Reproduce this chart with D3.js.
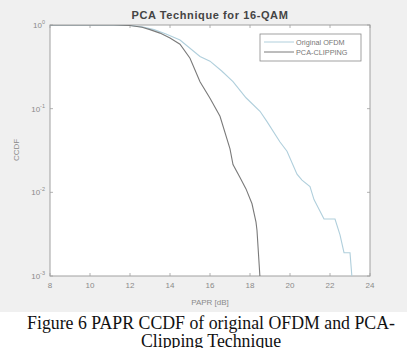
<!DOCTYPE html>
<html><head><meta charset="utf-8">
<script src="https://cdn.jsdelivr.net/npm/d3@7"></script>
<style>
html,body{margin:0;padding:0;background:#fff;}
svg{display:block;}
</style></head>
<body>
<script>
const titleText = "PCA Technique for 16-QAM";
const xLabel = "PAPR [dB]";
const yLabel = "CCDF";
const xTicks = [8,10,12,14,16,18,20,22,24];
const yTicks = [1,0.1,0.01,0.001];
const yTickExp = ["0","-1","-2","-3"];
const seriesNames = ["Original OFDM","PCA-CLIPPING"];
const captionLines = ["Figure 6 PAPR CCDF of original OFDM and PCA-","Clipping Technique"];

// Original OFDM: [PAPR dB, CCDF]
const originalX = [8, 11.2, 12.0, 12.6, 13.2, 13.8, 14.5, 15.5, 16.0, 16.6, 17.15, 17.8, 18.5, 18.85, 19.5, 19.85, 20.35, 20.6, 21.0, 21.2, 21.7, 22.25, 22.5, 22.7, 23.0, 23.1, 23.5];
const originalY = [1, 1, 0.985, 0.95, 0.88, 0.78, 0.66, 0.42, 0.37, 0.28, 0.21, 0.135, 0.093, 0.07, 0.04, 0.031, 0.0165, 0.014, 0.0117, 0.0082, 0.0048, 0.0048, 0.0031, 0.0019, 0.0019, 0.00095, 0.00095];
// PCA-CLIPPING
const clipX = [8, 11.2, 12.0, 12.6, 13.0, 13.5, 14.0, 14.5, 15.0, 15.5, 16.0, 16.5, 17.0, 17.15, 17.5, 17.8, 18.1, 18.3, 18.35, 18.5, 18.8];
const clipY = [1, 1, 0.985, 0.94, 0.88, 0.80, 0.70, 0.59, 0.40, 0.21, 0.133, 0.081, 0.033, 0.0215, 0.015, 0.011, 0.0073, 0.0044, 0.0035, 0.00095, 0.00095];

const W = 407, H = 348;
const svg = d3.select("body").append("svg").attr("width", W).attr("height", H);
svg.append("rect").attr("x",0).attr("y",0).attr("width",W).attr("height",312).attr("fill","#f0f0f0");

const L = 50, R = 370, T = 25, B = 276;
const x = d3.scaleLinear().domain([8,24]).range([L,R]);
const y = d3.scaleLog().domain([0.001,1]).range([B,T]);

const defs = svg.append("defs");
defs.append("clipPath").attr("id","pc").append("rect").attr("x",L).attr("y",T).attr("width",R-L).attr("height",B-T);

svg.append("rect").attr("x",L).attr("y",T).attr("width",R-L).attr("height",B-T).attr("fill","#fff");

const axisColor = "#a0a0a0";
const tickFont = "Arial, 'Liberation Sans', sans-serif";

// ticks
const g = svg.append("g");
xTicks.forEach(v=>{
  g.append("line").attr("x1",x(v)).attr("x2",x(v)).attr("y1",B).attr("y2",B-3).attr("stroke",axisColor).attr("stroke-width",0.8);
  g.append("line").attr("x1",x(v)).attr("x2",x(v)).attr("y1",T).attr("y2",T+3).attr("stroke",axisColor).attr("stroke-width",0.8);
  g.append("text").attr("x",x(v)).attr("y",B+12).attr("text-anchor","middle").attr("font-family",tickFont).attr("font-size",8).attr("fill","#8a8a8a").text(v);
});
yTicks.forEach((v,i)=>{
  g.append("line").attr("x1",L).attr("x2",L+3).attr("y1",y(v)).attr("y2",y(v)).attr("stroke",axisColor).attr("stroke-width",0.8);
  g.append("line").attr("x1",R).attr("x2",R-3).attr("y1",y(v)).attr("y2",y(v)).attr("stroke",axisColor).attr("stroke-width",0.8);
  const t = g.append("text").attr("x",L-5).attr("y",y(v)+3).attr("text-anchor","end").attr("font-family",tickFont).attr("font-size",8).attr("fill","#8a8a8a");
  t.append("tspan").text("10");
  t.append("tspan").attr("dy",-4).attr("font-size",5.5).text(yTickExp[i]);
});

// frame
svg.append("rect").attr("x",L).attr("y",T).attr("width",R-L).attr("height",B-T).attr("fill","none").attr("stroke",axisColor).attr("stroke-width",1);

const line = d3.line().x(d=>x(d[0])).y(d=>y(d[1]));
const pg = svg.append("g").attr("clip-path","url(#pc)");
pg.append("path").attr("d", line(originalX.map((v,i)=>[v,originalY[i]]))).attr("fill","none").attr("stroke","#b0cfdc").attr("stroke-width",1.1);
pg.append("path").attr("d", line(clipX.map((v,i)=>[v,clipY[i]]))).attr("fill","none").attr("stroke","#7a7a7a").attr("stroke-width",1.1);

// title & labels
svg.append("text").attr("x",(L+R)/2).attr("y",19).attr("text-anchor","middle").attr("font-family",tickFont).attr("font-weight","bold").attr("font-size",11).attr("letter-spacing",0.6).attr("fill","#444").text(titleText);
svg.append("text").attr("x",(L+R)/2).attr("y",305).attr("text-anchor","middle").attr("font-family",tickFont).attr("font-size",8).attr("fill","#8a8a8a").text(xLabel);
svg.append("text").attr("transform",`translate(19,${150}) rotate(-90)`).attr("text-anchor","middle").attr("font-family",tickFont).attr("font-size",8).attr("fill","#8a8a8a").text(yLabel);

// legend
const lg = svg.append("g");
lg.append("rect").attr("x",260).attr("y",34).attr("width",101).attr("height",27).attr("fill","#fff").attr("stroke","#8a8a8a").attr("stroke-width",0.8);
const cols = ["#b0cfdc","#7a7a7a"];
seriesNames.forEach((n,i)=>{
  const yy = 42 + i*10;
  lg.append("line").attr("x1",264).attr("x2",294).attr("y1",yy).attr("y2",yy).attr("stroke",cols[i]).attr("stroke-width",1);
  lg.append("text").attr("x",296).attr("y",yy+2.5).attr("font-family",tickFont).attr("font-size",7.3).attr("fill","#777").text(n);
});

// caption
captionLines.forEach((c,i)=>{
  svg.append("text").attr("x",211).attr("y",329+i*18).attr("text-anchor","middle").attr("font-family","'Liberation Serif','Times New Roman',serif").attr("font-size",17.8).attr("fill","#111").text(c);
});
</script>
</body></html>
